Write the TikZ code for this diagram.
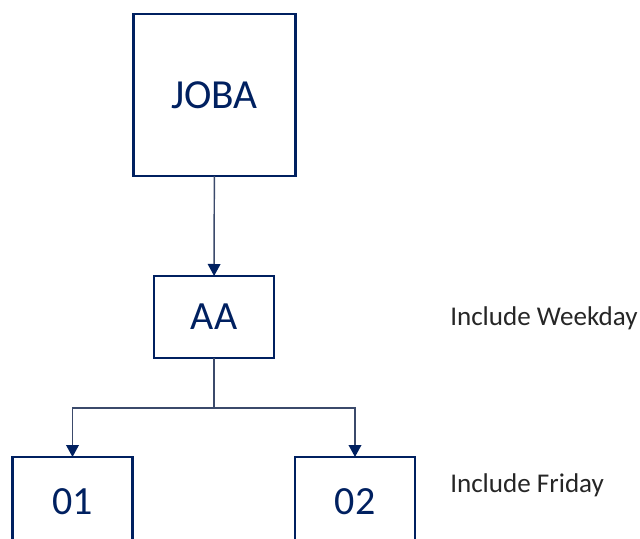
\documentclass[tikz,border=0pt]{standalone}
\usepackage{fontspec}
\setmainfont{Carlito}
\usepackage{xcolor}
\usetikzlibrary{arrows.meta}

\definecolor{boxblue}{HTML}{002060}
\definecolor{lineblue}{HTML}{3B4A6B}
\definecolor{notegray}{HTML}{262626}

\begin{document}
\begin{tikzpicture}[
    x=0.75pt, y=-0.75pt,
    >={Triangle[length=9pt,width=9.5pt,color=boxblue]},
    job/.style={draw=boxblue, line width=2.2pt, inner sep=0pt, outer sep=0pt,
      text=boxblue, font=\fontsize{30}{34}\selectfont},
    link/.style={draw=lineblue, line width=1.1pt},
    note/.style={anchor=west, inner sep=0pt, text=notegray,
      font=\fontsize{20.3}{24}\selectfont}
  ]
    \useasboundingbox (0,0) rectangle (640,539);
    \node[job, minimum width=122pt, minimum height=121.5pt,
      font=\fontsize{31}{35}\selectfont] (joba) at (214.5,95) {JOBA};
    \node[job, minimum width=90pt, minimum height=61.5pt] (aa) at (214,317) {AA};
    \node[job, minimum width=90.5pt, minimum height=67.5pt] (n01) at (72.5,502) {01};
    \node[job, minimum width=90pt, minimum height=67.5pt] (n02) at (355,502) {02};
    \coordinate (split) at (214,408);
    \node[note] (weekday) at (450,318) {Include Weekday};
    \node[note] (friday) at (450,485) {Include Friday};
    \draw[link,->] (joba) -- (aa);
    \draw[link] (aa) -- (split);
    \draw[link,->] (split) -| (n01);
    \draw[link,->] (split) -| (n02);
  \end{tikzpicture}
\end{document}
